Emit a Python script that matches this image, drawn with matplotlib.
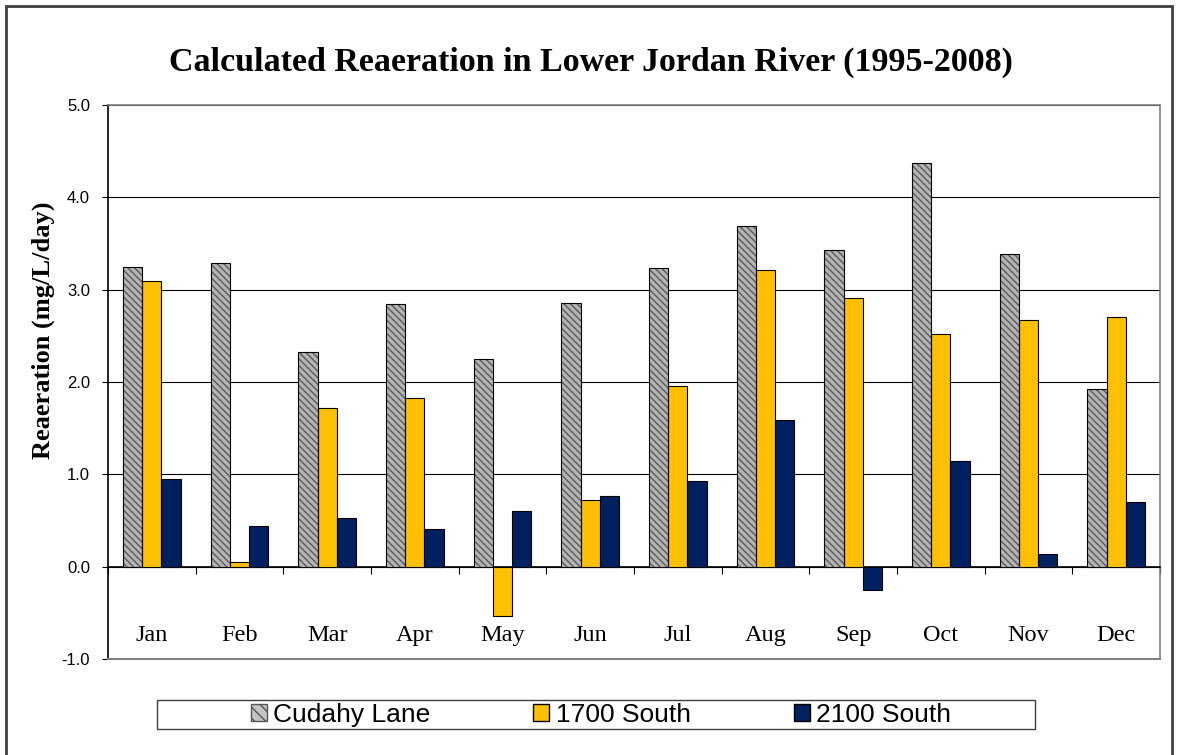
import numpy as np
import matplotlib
matplotlib.use("Agg")
import matplotlib.pyplot as plt
from matplotlib.patches import Rectangle, Patch

months = ['Jan', 'Feb', 'Mar', 'Apr', 'May', 'Jun', 'Jul', 'Aug', 'Sep', 'Oct', 'Nov', 'Dec']
cudahy = [3.25, 3.29, 2.33, 2.84, 2.25, 2.86, 3.23, 3.69, 3.43, 4.37, 3.39, 1.92]
south_1700 = [3.09, 0.05, 1.72, 1.83, -0.53, 0.72, 1.96, 3.21, 2.91, 2.52, 2.67, 2.70]
south_2100 = [0.95, 0.44, 0.53, 0.41, 0.60, 0.76, 0.93, 1.59, -0.25, 1.14, 0.14, 0.70]
series_names = ['Cudahy Lane', '1700 South', '2100 South']

serif = 'Liberation Serif'
sans = 'Liberation Sans'

W, H = 1177, 755
fig = plt.figure(figsize=(W / 100, H / 100), dpi=100)
ax = fig.add_axes([108 / W, 1 - 659 / H, (1160 - 108) / W, (659 - 105) / H])

x = np.arange(len(months))
w = 0.22

# Cudahy Lane: grey textured bars (hatch drawn first, then black outline)
ax.bar(x - w, cudahy, w, color='#b4b4b4', hatch='\\\\\\\\\\', edgecolor='#5a5a5a',
       linewidth=0, zorder=3)
ax.bar(x - w, cudahy, w, fill=False, edgecolor='black', linewidth=0.8, zorder=4)
ax.bar(x, south_1700, w, color='#FFC000', edgecolor='black', linewidth=0.8, zorder=3)
ax.bar(x + w, south_2100, w, color='#002060', edgecolor='black', linewidth=0.8, zorder=3)

ax.set_xlim(-0.5, 11.5)
ax.set_ylim(-1.0, 5.0)
yt = np.arange(-1.0, 5.01, 1.0)
ax.set_yticks(yt)
ax.set_yticklabels([f'{v:.1f}' for v in yt], fontfamily=sans, fontsize=12)
ax.tick_params(axis='y', direction='out', length=4, width=0.8, pad=9)

ax.yaxis.grid(True, color='black', linewidth=0.8, zorder=0)
ax.set_axisbelow(True)

# category axis crosses at zero
ax.spines['bottom'].set_position(('data', 0))
ax.spines['bottom'].set_linewidth(1.2)
ax.spines['left'].set_linewidth(1.2)
for s in ['top', 'right']:
    ax.spines[s].set_color('#808080')
    ax.spines[s].set_linewidth(1.2)
ax.axhline(-1.0, color='#808080', linewidth=1.5, clip_on=False, zorder=5)

ax.set_xticks(x)
ax.set_xticklabels(months, fontfamily=serif, fontsize=17.5)
ax.set_xticks(np.arange(-0.5, 11.6, 1.0), minor=True)
ax.tick_params(axis='x', which='major', length=0, pad=42)
ax.tick_params(axis='x', which='minor', direction='out', length=5, width=0.8)

ax.set_ylabel('Reaeration (mg/L/day)', fontfamily=serif, fontweight='bold', fontsize=19)
ax.yaxis.set_label_coords((55 - 108) / 1052, 1 - (330 - 105) / 554)

fig.text(591 / W, 1 - 62 / H, 'Calculated Reaeration in Lower Jordan River (1995-2008)',
         ha='center', va='center', fontfamily=serif, fontweight='bold', fontsize=24.5)

handles = [Patch(facecolor='#c4c4c4', hatch='\\\\\\', edgecolor='#555555'),
           Patch(facecolor='#FFC000', edgecolor='black'),
           Patch(facecolor='#002060', edgecolor='black')]
leg = fig.legend(handles, series_names, ncol=3, loc='center',
                 bbox_to_anchor=(601 / W, 1 - 715 / H),
                 prop={'family': sans, 'size': 19},
                 handlelength=0.6, handleheight=0.6, handletextpad=0.25,
                 columnspacing=3.9, borderpad=0.1, frameon=False)

# legend box
fig.patches.append(Rectangle((157 / W, 1 - 729 / H), (1035 - 157) / W, 29 / H,
                             transform=fig.transFigure, fill=False,
                             edgecolor='#404040', linewidth=1.0))
# chart area border
fig.patches.append(Rectangle((6 / W, -0.05), (1172 - 6) / W, 1.05 - 6 / H,
                             transform=fig.transFigure, fill=False,
                             edgecolor='#404040', linewidth=2))

fig.savefig('out.png', dpi=100)
